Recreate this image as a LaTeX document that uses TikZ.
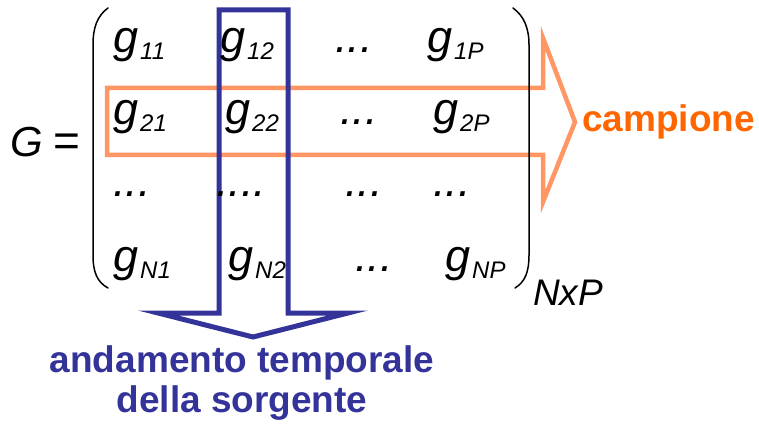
\documentclass[tikz,border=0pt]{standalone}
\usepackage{fontspec}
\setmainfont{Liberation Sans}
\definecolor{blu}{RGB}{51,51,153}
\definecolor{arancio}{RGB}{255,150,100}
\definecolor{aranciotxt}{RGB}{255,102,0}
\newcommand{\gel}[1]{g\kern2pt\raisebox{-7pt}{\fontsize{24}{24}\selectfont #1}}

\begin{document}
\begin{tikzpicture}[x=1pt,y=-1pt,every node/.style={inner sep=0pt, anchor=base west},
  ent/.style={font=\fontsize{45}{45}\selectfont\itshape},
  lbl/.style={font=\fontsize{37}{40}\selectfont\bfseries, anchor=base},
  paren/.style={line width=1.5pt, line cap=round}]
\useasboundingbox (0,0) rectangle (759,427);

\draw[arancio, line width=4.5pt, line join=miter] (107,88) -- (543,88) -- (543,38) -- (575,122) -- (543,202) -- (543,155) -- (107,155) -- cycle;  % riga
\draw[blu, line width=5pt, line join=miter] (219,10) -- (288,10) -- (288,313) -- (348,313) -- (253,337) -- (158,313) -- (219,313) -- cycle;  % colonna

\node[font=\fontsize{42}{42}\selectfont\itshape] (gl) at (10,157) {G};
\node[font=\fontsize{46}{46}\selectfont] (eq) at (53,157) {=};

\node[ent] (g11) at (113,53) {\gel{11}};
\node[ent] (g12) at (220,53) {\gel{12}};
\node[ent] (d13) at (335,53) {...};
\node[ent] (g1P) at (427,53) {\gel{1P}};

\node[ent] (g21) at (113,125) {\gel{21}};
\node[ent] (g22) at (225,125) {\gel{22}};
\node[ent] (d23) at (340,125) {...};
\node[ent] (g2P) at (433,125) {\gel{2P}};

\node[ent] (d31) at (113,197) {...};
\node[ent] (d32) at (216,197) {....};
\node[ent] (d33) at (345,197) {...};
\node[ent] (d34) at (433,197) {...};

\node[ent] (gN1) at (113,272) {\gel{N1}};
\node[ent] (gN2) at (228,272) {\gel{N2}};
\node[ent] (d43) at (355,272) {...};
\node[ent] (gNP) at (445,272) {\gel{NP}};

\draw[paren] (108,8) .. controls (97,16) and (93,28) .. (93,45) -- (93,255) .. controls (93,272) and (97,282) .. (108,288);
\draw[paren] (513,8) .. controls (524,16) and (529,28) .. (529,45) -- (529,255) .. controls (529,272) and (525,282) .. (515,288);

\node[font=\fontsize{37}{37}\selectfont\itshape] (dim) at (533,305) {NxP};

\node[lbl, text=aranciotxt, anchor=base west] (camp) at (582,132) {campione};
\node[lbl, text=blu] (andam) at (242,372) {andamento temporale};
\node[lbl, text=blu] (sorg) at (242,412) {della sorgente};
\end{tikzpicture}
\end{document}
